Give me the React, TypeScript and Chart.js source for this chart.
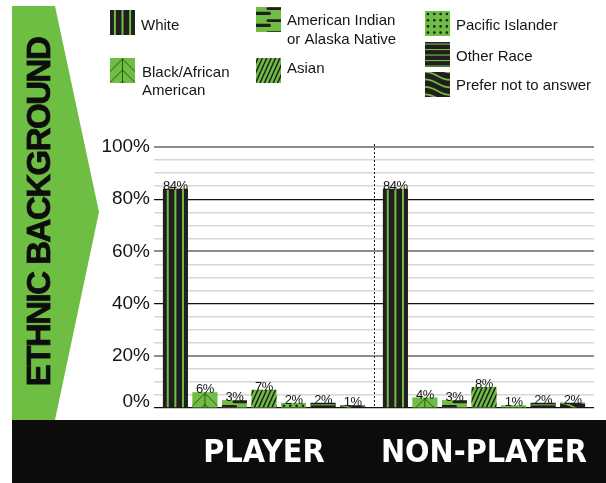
import React, { useEffect, useRef } from 'react';
import { Chart, registerables } from 'chart.js';

Chart.register(...registerables);

// ---------- data ----------
const categories = ['PLAYER', 'NON-PLAYER'];
const groups = [
  'White',
  'Black/African American',
  'American Indian or Alaska Native',
  'Asian',
  'Pacific Islander',
  'Other Race',
  'Prefer not to answer',
];
const playerValues = [84, 6, 3, 7, 2, 2, 1];
const nonPlayerValues = [84, 4, 3, 8, 1, 2, 2];
const yTickLabels = [0, 20, 40, 60, 80, 100];
const legendLines = [
  ['White'],
  ['Black/African', 'American'],
  ['American Indian', 'or Alaska Native'],
  ['Asian'],
  ['Pacific Islander'],
  ['Other Race'],
  ['Prefer not to answer'],
];
const titleText = 'ETHNIC BACKGROUND';

// ---------- styles ----------
const GREEN = '#6fbe44';
const DARK = '#221e1f';
const CONDENSED = "'DejaVu Sans Condensed', 'Liberation Sans Narrow', 'Liberation Sans', Arial, sans-serif";
const SANS = "'Liberation Sans', Arial, sans-serif";

type Painter = (c: CanvasRenderingContext2D, x: number, y: number, w: number, h: number) => void;

const paintWhite: Painter = (c, x, y, w, h) => {
  c.fillStyle = DARK;
  c.fillRect(x, y, w, h);
  c.fillStyle = GREEN;
  const p = 7.6, sw = 2, cx = x + w / 2;
  for (let k = -3; k <= 3; k++) {
    const sx = cx + k * p - sw / 2;
    if (sx > x && sx + sw < x + w) c.fillRect(sx, y, sw, h);
  }
};

const paintBlack: Painter = (c, x, y, w, h) => {
  c.fillStyle = GREEN;
  c.fillRect(x, y, w, h);
  c.strokeStyle = 'rgba(25,40,15,0.8)';
  c.lineWidth = 0.9;
  const cx = x + w / 2;
  c.beginPath();
  c.moveTo(cx, y);
  c.lineTo(cx, y + h);
  for (let ay = y + 1; ay < y + h; ay += 11) {
    c.moveTo(x - 1, ay + w / 2 + 1);
    c.lineTo(cx, ay);
    c.lineTo(x + w + 1, ay + w / 2 + 1);
  }
  c.stroke();
};

const paintAI: Painter = (c, x, y, w, h) => {
  c.fillStyle = GREEN;
  c.fillRect(x, y, w, h);
  c.fillStyle = DARK;
  for (let ry = y; ry < y + h; ry += 12) {
    c.beginPath();
    c.roundRect(x + w * 0.42, ry + 0.2, w * 0.7, 2.8, 1.4);
    c.fill();
    c.beginPath();
    c.roundRect(x - w * 0.1, ry + 4.8, w * 0.7, 3.2, 1.6);
    c.fill();
  }
};

const paintAsian: Painter = (c, x, y, w, h) => {
  c.fillStyle = GREEN;
  c.fillRect(x, y, w, h);
  c.strokeStyle = DARK;
  c.lineWidth = 1.5;
  const period = 4.4, slope = 0.45;
  c.beginPath();
  for (let xt = x + 2; xt < x + w + h * slope + period; xt += period) {
    c.moveTo(xt, y);
    c.lineTo(xt - h * slope, y + h);
  }
  c.stroke();
};

const paintPacific: Painter = (c, x, y, w, h) => {
  c.fillStyle = GREEN;
  c.fillRect(x, y, w, h);
  c.fillStyle = DARK;
  for (let dy = y + 3; dy < y + h + 1; dy += 6.2) {
    for (let dx = x + 3; dx < x + w; dx += 6.3) {
      c.beginPath();
      c.arc(dx, dy, 1.3, 0, Math.PI * 2);
      c.fill();
    }
  }
};

const paintOther: Painter = (c, x, y, w, h) => {
  c.fillStyle = DARK;
  c.fillRect(x, y, w, h);
  c.fillStyle = GREEN;
  for (let ly = y + 1.5; ly < y + h; ly += 5.5) c.fillRect(x, ly, w, 1.1);
};

const paintPrefer: Painter = (c, x, y, w, h) => {
  c.fillStyle = DARK;
  c.fillRect(x, y, w, h);
  c.strokeStyle = GREEN;
  c.lineWidth = 1.8;
  c.beginPath();
  for (let ly = y - 15; ly < y + h + 4; ly += 7.5) {
    c.moveTo(x - 1, ly);
    c.bezierCurveTo(x + w * 0.4, ly - 1, x + w * 0.55, ly + 8, x + w + 1, ly + 8);
  }
  c.stroke();
};

const painters: Painter[] = [paintWhite, paintBlack, paintAI, paintAsian, paintPacific, paintOther, paintPrefer];
const baseColors = [DARK, GREEN, GREEN, GREEN, GREEN, DARK, DARK];

// legend layout (swatch top-left, text x, text baselines)
const legendLayout = [
  { sx: 110, sy: 10, tx: 141, by: [29.5] },
  { sx: 110, sy: 58, tx: 142, by: [76.5, 94.5] },
  { sx: 256, sy: 7, tx: 287, by: [25, 44] },
  { sx: 256, sy: 58, tx: 287, by: [73] },
  { sx: 425, sy: 11, tx: 456, by: [29.5] },
  { sx: 425, sy: 42, tx: 456, by: [60.5] },
  { sx: 425, sy: 72, tx: 456, by: [89.5] },
];

const paintClipped = (c: CanvasRenderingContext2D, p: Painter, x: number, y: number, w: number, h: number) => {
  c.save();
  c.beginPath();
  c.rect(x, y, w, h);
  c.clip();
  p(c, x, y, w, h);
  c.restore();
};

const decorPlugin = {
  id: 'decor',
  beforeDraw(chart: any) {
    const c: CanvasRenderingContext2D = chart.ctx;
    c.save();
    // green arrow banner
    c.fillStyle = GREEN;
    c.beginPath();
    c.moveTo(12, 6);
    c.lineTo(55, 6);
    c.lineTo(99, 212);
    c.lineTo(55, 420);
    c.lineTo(12, 420);
    c.closePath();
    c.fill();
    // black band
    c.fillStyle = '#0e0b0b';
    c.fillRect(12, 420, 594, 63);
    // vertical title
    c.translate(38.5, 212);
    c.rotate(-Math.PI / 2);
    c.fillStyle = '#0d0d0d';
    c.strokeStyle = '#0d0d0d';
    c.lineWidth = 0.8;
    c.font = `bold 33px ${SANS}`;
    (c as any).letterSpacing = '-1.5px';
    c.textAlign = 'center';
    c.textBaseline = 'alphabetic';
    c.fillText(titleText, 0, 11.8);
    c.strokeText(titleText, 0, 11.8);
    c.restore();
  },
};

const barPainterPlugin = {
  id: 'barPainter',
  afterDatasetDraw(chart: any, args: any) {
    const c: CanvasRenderingContext2D = chart.ctx;
    const p = painters[args.index];
    args.meta.data.forEach((bar: any) => {
      const { x, y, base, width } = bar.getProps(['x', 'y', 'base', 'width'], true);
      const left = x - width / 2;
      const top = Math.min(y, base);
      const h = Math.abs(base - y);
      paintClipped(c, p, left, top, width, h);
    });
  },
};

const labelsPlugin = {
  id: 'valueLabels',
  afterDatasetsDraw(chart: any) {
    const c: CanvasRenderingContext2D = chart.ctx;
    const xs = chart.scales.x;
    const area = chart.chartArea;
    c.save();
    // dotted separator between groups
    const sep = (xs.getPixelForValue(0) + xs.getPixelForValue(1)) / 2;
    c.strokeStyle = '#222';
    c.lineWidth = 1;
    c.setLineDash([2, 2]);
    c.beginPath();
    c.moveTo(Math.round(sep) + 0.5, area.top - 3);
    c.lineTo(Math.round(sep) + 0.5, area.bottom);
    c.stroke();
    c.setLineDash([]);
    // value labels
    c.fillStyle = '#141414';
    c.font = `13px ${SANS}`;
    (c as any).letterSpacing = '-0.5px';
    c.textAlign = 'center';
    c.textBaseline = 'alphabetic';
    chart.data.datasets.forEach((ds: any, i: number) => {
      const meta = chart.getDatasetMeta(i);
      meta.data.forEach((bar: any, j: number) => {
        const { x, y } = bar.getProps(['x', 'y'], true);
        c.fillText(`${ds.data[j]}%`, x, y + 1);
      });
    });
    c.restore();
  },
};

const legendPlugin = {
  id: 'customLegend',
  afterDraw(chart: any) {
    const c: CanvasRenderingContext2D = chart.ctx;
    c.save();
    c.font = `15px ${SANS}`;
    c.fillStyle = '#151515';
    c.textAlign = 'left';
    c.textBaseline = 'alphabetic';
    legendLayout.forEach((L, i) => {
      paintClipped(c, painters[i], L.sx, L.sy, 25, 25);
      legendLines[i].forEach((line, k) => c.fillText(line, L.tx, L.by[k]));
    });
    c.restore();
  },
};

export default function App() {
  const ref = useRef<HTMLCanvasElement>(null);
  useEffect(() => {
    const canvas = ref.current;
    if (!canvas) return;
    const chart = new Chart(canvas, {
      type: 'bar',
      data: {
        labels: categories,
        datasets: groups.map((g, i) => ({
          label: g,
          data: [playerValues[i], nonPlayerValues[i]],
          backgroundColor: baseColors[i],
          borderWidth: 0,
          categoryPercentage: 0.94,
          barPercentage: 0.845,
        })),
      },
      options: {
        responsive: false,
        animation: false,
        devicePixelRatio: 1,
        layout: { padding: { left: 0, top: 147, right: 12, bottom: 0 } },
        plugins: {
          legend: { display: false },
          tooltip: { enabled: false },
        },
        scales: {
          x: {
            grid: { display: false, drawTicks: false },
            border: { display: false },
            ticks: {
              color: '#ffffff',
              font: { family: CONDENSED, size: 32, weight: 'bold' },
              padding: 26,
              maxRotation: 0,
              minRotation: 0,
              autoSkip: false,
            },
            afterFit: (s: any) => {
              s.height = 75;
              s.paddingLeft = 0;
              s.paddingRight = 0;
            },
          },
          y: {
            min: 0,
            max: 100,
            ticks: {
              stepSize: 5,
              autoSkip: false,
              padding: 4,
              color: '#161616',
              font: (ctx: any) => ({
                family: SANS,
                size: 19,
                lineHeight: ctx.tick && ctx.tick.value === 0 ? '12px' : 1.2,
              }),
              callback: (v: any) => {
                const n = Number(v);
                if (!yTickLabels.includes(n)) return '';
                return n === 0 ? ['0%', ''] : `${n}%`;
              },
            },
            grid: {
              drawTicks: false,
              color: (ctx: any) => {
                const v = ctx.tick ? ctx.tick.value : 0;
                if (v % 40 === 20) return '#8c8c8c';
                if (v % 40 === 0) return '#111111';
                return '#d6d6d6';
              },
              lineWidth: (ctx: any) => {
                const v = ctx.tick ? ctx.tick.value : 0;
                if (v % 40 === 20) return 2;
                if (v % 40 === 0) return 1.2;
                return 1.5;
              },
            },
            border: { display: false },
            afterFit: (s: any) => {
              s.width = 154;
            },
          },
        },
      },
      plugins: [decorPlugin, barPainterPlugin, labelsPlugin, legendPlugin],
    } as any);
    return () => chart.destroy();
  }, []);

  return (
    <div style={{ position: 'absolute', left: 0, top: 0, width: 606, height: 483, background: '#ffffff' }}>
      <canvas ref={ref} width={606} height={483} style={{ display: 'block', width: 606, height: 483 }} />
    </div>
  );
}
